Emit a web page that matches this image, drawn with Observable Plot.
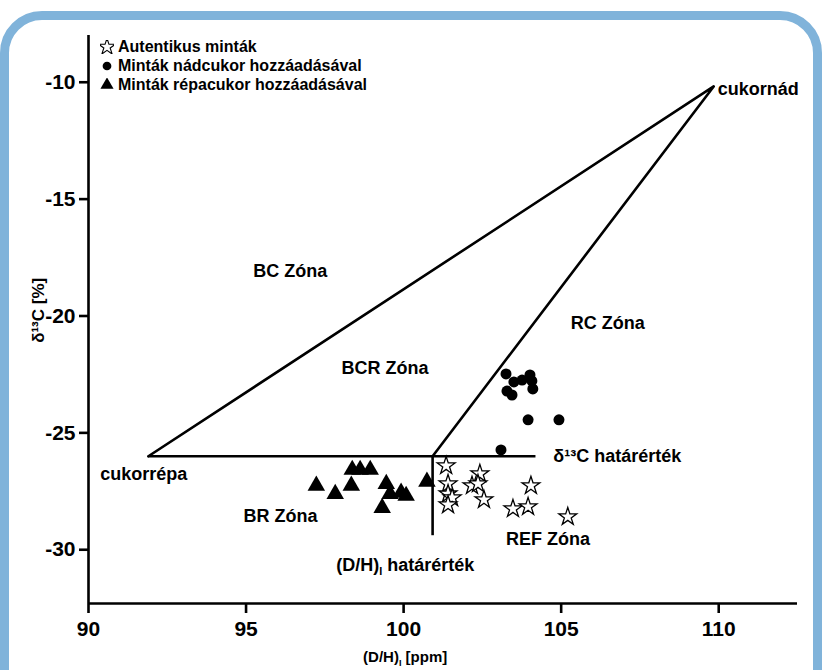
<!DOCTYPE html>
<html>
<head>
<meta charset="utf-8">
<script src="https://cdn.jsdelivr.net/npm/d3@7"></script>
<script src="https://cdn.jsdelivr.net/npm/@observablehq/plot@0.6"></script>
<style>
  html, body { margin: 0; padding: 0; background: #fff; }
  #wrap { position: relative; width: 822px; height: 670px; overflow: hidden; background: #fff; font-family: "Liberation Sans", Arial, sans-serif; }
  #frame { position: absolute; left: 0px; top: 11px; width: 804px; height: 720px; border: 9px solid #80b3da; border-radius: 42px; box-sizing: content-box; }
  #chart { position: absolute; left: 0; top: 0; }
  #legend { position: absolute; left: 100px; top: 37px; font-weight: bold; font-size: 16px; line-height: 19px; color: #000; }
  #legend div { display: flex; align-items: center; white-space: nowrap; height: 19px; }
  #legend svg { width: 14px; height: 14px; margin-right: 4px; }
</style>
</head>
<body>
<div id="wrap">
  <div id="frame"></div>
  <div id="chart"></div>
  <div id="legend"></div>
</div>
<script>
// ---- data ----
const seriesNames = ["Autentikus minták", "Minták nádcukor hozzáadásával", "Minták répacukor hozzáadásával"];

const authenticDH  = [101.35, 101.41, 101.41, 101.54, 101.41, 102.17, 102.42, 102.36, 102.55, 103.47, 103.95, 104.04, 105.21];
const authenticC13 = [-26.41, -27.18, -27.61, -27.78, -28.08, -27.26, -26.75, -27.18, -27.86, -28.25, -28.16, -27.26, -28.59];

const caneDH  = [103.25, 103.50, 103.76, 104.01, 104.07, 104.10, 103.28, 103.44, 103.95, 104.93, 103.09];
const caneC13 = [-22.48, -22.82, -22.74, -22.52, -22.78, -23.12, -23.21, -23.38, -24.44, -24.44, -25.73];

const beetDH  = [97.23, 97.83, 98.34, 98.37, 98.62, 98.94, 99.45, 99.57, 99.92, 100.08, 99.32, 100.74];
const beetC13 = [-27.26, -27.61, -27.26, -26.58, -26.58, -26.58, -27.18, -27.61, -27.56, -27.69, -28.21, -27.09];

// triangle vertices: cukorrépa, cukornád, threshold intersection
const vertexDH  = [91.9, 109.84, 100.92];
const vertexC13 = [-26.0, -10.18, -26.0];

const c13Threshold = -26.0;
const dhThreshold = 100.92;
const c13LineEndDH = 104.2;
const dhLineBottom = -29.4;

const xTicks = [90, 95, 100, 105, 110];
const yTicks = [-10, -15, -20, -25, -30];
const xDomain = [90, 112.5];
const yDomain = [-32.3, -8];

// centred labels
const zoneLabels = ["BC Zóna", "RC Zóna", "BCR Zóna", "cukorrépa", "BR Zóna", "REF Zóna", "(D/H)_I határérték"];
const zoneDH  = [96.4, 106.48, 99.41, 91.75, 96.09, 104.58, 100.05];
const zoneC13 = [-18.08, -20.3, -22.22, -26.75, -28.55, -29.53, -30.68];
// left-aligned labels
const sideLabels = ["cukornád", "δ¹³C határérték"];
const sideDH  = [109.97, 104.75];
const sideC13 = [-10.32, -26.0];

const xTitle = "(D/H)_I [ppm]";
const xTitleAt = 100.05;
const yTitle = "δ¹³C [%]";
const yTitleAt = -21.15;

// ---- build ----
const pts = (xs, ys) => xs.map((x, i) => ({x, y: ys[i]}));
const authentic = pts(authenticDH, authenticC13);
const cane = pts(caneDH, caneC13);
const beet = pts(beetDH, beetC13);
const tri = pts(vertexDH, vertexC13);
const zones = zoneLabels.map((t, i) => ({t, x: zoneDH[i], y: zoneC13[i]}));
const sides = sideLabels.map((t, i) => ({t, x: sideDH[i], y: sideC13[i]}));

const font = "Liberation Sans, Arial, sans-serif";
const sw = 2.6;

const plot = Plot.plot({
  width: 822,
  height: 670,
  marginLeft: 88,
  marginRight: 25,
  marginTop: 35,
  marginBottom: 67,
  style: {fontFamily: font, background: "transparent", overflow: "visible"},
  x: {domain: xDomain, ticks: xTicks},
  y: {domain: yDomain, ticks: yTicks},
  marks: [
    Plot.axisX({ticks: xTicks, tickSize: 10, tickPadding: 8, tickFormat: d => String(d), fontSize: 21, fontWeight: "bold", strokeWidth: sw, label: null}),
    Plot.axisY({ticks: yTicks, tickSize: 9, tickPadding: 4, tickFormat: d => String(d), fontSize: 21, fontWeight: "bold", strokeWidth: sw, label: null}),
    Plot.ruleY([yDomain[0]], {x1: xDomain[0], x2: xDomain[1], strokeWidth: sw}),
    Plot.ruleX([xDomain[0]], {y1: yDomain[0], y2: yDomain[1], strokeWidth: sw}),
    Plot.line(tri, {x: "x", y: "y", strokeWidth: sw, stroke: "black"}),
    Plot.ruleY([c13Threshold], {x1: vertexDH[0], x2: c13LineEndDH, strokeWidth: sw}),
    Plot.ruleX([dhThreshold], {y1: c13Threshold, y2: dhLineBottom, strokeWidth: sw}),
    Plot.dot(beet, {x: "x", y: "y", symbol: "triangle", r: 6.5, fill: "black", stroke: "none"}),
    Plot.dot(cane, {x: "x", y: "y", symbol: "circle", r: 5.5, fill: "black", stroke: "none"}),
    Plot.dot(authentic, {x: "x", y: "y", symbol: "star", r: 5.6, fill: "white", stroke: "black", strokeWidth: 1.3}),
    Plot.text(zones, {x: "x", y: "y", text: "t", textAnchor: "middle", fontSize: 18, fontWeight: "bold", fill: "black"}),
    Plot.text(sides, {x: "x", y: "y", text: "t", textAnchor: "start", fontSize: 18, fontWeight: "bold", fill: "black"}),
    Plot.text([{t: xTitle, x: xTitleAt}], {x: "x", text: "t", frameAnchor: "bottom", dy: 58, fontSize: 15, fontWeight: "bold"}),
    Plot.text([{t: yTitle, y: yTitleAt}], {y: "y", text: "t", frameAnchor: "left", dx: -50, rotate: -90, fontSize: 17, fontWeight: "bold"})
  ]
});

// subscript I
d3.select(plot).selectAll("text").each(function() {
  const s = this.textContent;
  if (!s.includes("_I")) return;
  const t = d3.select(this);
  const parts = s.split(/(_I)/).filter(p => p !== "");
  t.text(null);
  let shift = 0;
  parts.forEach(p => {
    if (p === "_I") {
      t.append("tspan").attr("font-size", "0.6em").attr("dy", 4 - shift).text("I");
      shift = 4;
    } else {
      t.append("tspan").attr("dy", -shift).text(p);
      shift = 0;
    }
  });
});

document.getElementById("chart").appendChild(plot);

// legend
const legendSymbols = [
  {type: d3.symbolStar, fill: "white", stroke: "black", size: 85},
  {type: d3.symbolCircle, fill: "black", stroke: "none", size: 60},
  {type: d3.symbolTriangle, fill: "black", stroke: "none", size: 75}
];
const legend = d3.select("#legend");
seriesNames.forEach((name, i) => {
  const row = legend.append("div");
  const s = row.append("svg").attr("viewBox", "-7 -7 14 14");
  s.append("path").attr("d", d3.symbol(legendSymbols[i].type, legendSymbols[i].size)())
    .attr("fill", legendSymbols[i].fill).attr("stroke", legendSymbols[i].stroke).attr("stroke-width", 1.1);
  row.append("span").text(name);
});
</script>
</body>
</html>
